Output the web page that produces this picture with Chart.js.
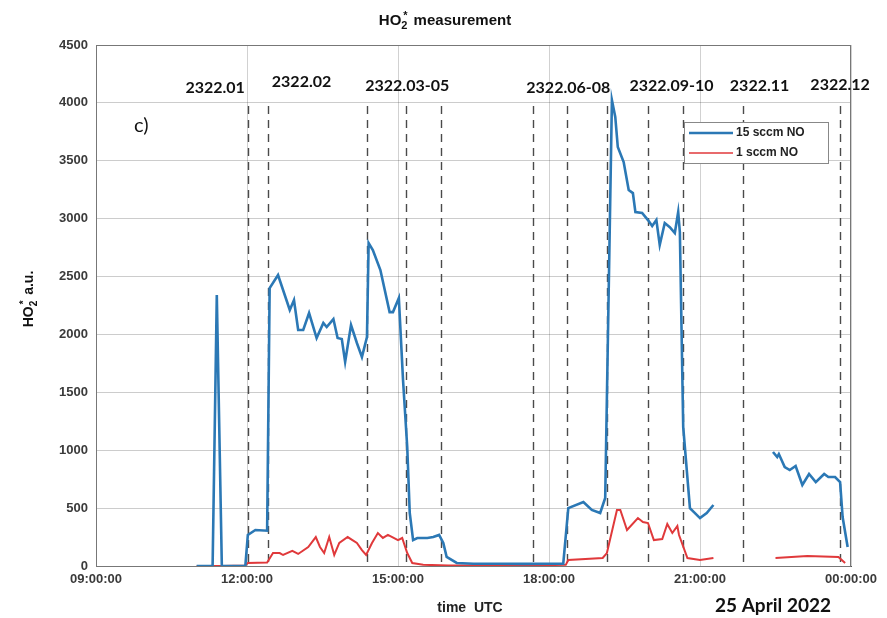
<!DOCTYPE html>
<html>
<head>
<meta charset="utf-8">
<script src="https://cdn.jsdelivr.net/npm/chart.js@4"></script>
<style>
  html, body { margin: 0; padding: 0; background: #fff; }
</style>
</head>
<body>
<canvas id="chart" width="887" height="618"></canvas>
<script>
// 15 sccm NO (blue)
const blueTimes = ["11:00","11:19","11:24","11:30","11:58","12:01","12:10","12:24","12:27","12:37","12:51","12:56","13:01","13:07","13:14","13:23","13:31","13:35","13:43","13:48","13:53","13:57","14:04","14:11","14:17","14:23","14:25","14:30","14:39","14:50","14:54","15:01","15:06","15:11","15:14","15:18","15:23","15:35","15:42","15:49","15:54","15:58","16:10","16:30","17:00","17:30","18:00","18:17","18:23","18:41","18:51","19:01","19:07","19:15","19:19","19:22","19:29","19:35","19:40","19:43","19:51","19:58","20:03","20:08","20:12","20:18","20:24","20:30","20:34","20:36","20:40","20:48","21:00","21:08","21:16","21:50","22:27","22:32","22:34","22:41","22:47","22:54","23:02","23:10","23:18","23:28","23:33","23:41","23:47","23:50","23:56"];
const blueValues = [0,0,2340,0,0,268,311,305,2400,2513,2211,2297,2038,2038,2185,1969,2099,2064,2133,1969,1960,1762,2081,1926,1805,1978,2790,2729,2556,2193,2193,2314,1606,1028,458,224,242,242,250,268,199,78,26,20,20,18,20,20,500,553,484,458,587,4024,3878,3619,3489,3247,3221,3057,3049,2988,2936,2988,2772,2962,2927,2876,3057,2884,1200,500,414,458,527,null,985,941,967,855,829,864,700,795,725,795,769,769,725,423,164];

// 1 sccm NO (red)
const redTimes = ["11:00","11:30","11:58","12:01","12:24","12:31","12:39","12:43","12:54","13:01","13:13","13:22","13:27","13:32","13:38","13:44","13:50","14:00","14:11","14:17","14:22","14:29","14:36","14:42","14:48","15:00","15:05","15:11","15:17","15:30","16:00","16:30","17:00","17:30","18:00","18:20","18:23","19:04","19:09","19:21","19:25","19:33","19:46","19:52","19:58","20:05","20:15","20:21","20:27","20:33","20:35","20:45","21:00","21:16","21:50","22:30","23:08","23:45","23:53"];
const redValues = [0,0,5,26,30,112,112,95,130,104,164,250,164,112,250,95,199,250,199,138,95,199,285,242,268,224,242,112,26,10,5,5,5,5,8,10,52,69,112,484,484,311,414,380,371,224,233,363,285,345,268,69,52,69,null,69,86,78,26];

// sample markers (dashed lines) and their labels
const markerTimes = ["12:01","12:25","14:23","15:10","15:51","17:41","18:22","19:09","19:58","20:40","21:51","23:47"];
const markerLabels = ["2322.01","2322.02","2322.03-05","2322.06-08","2322.09-10","2322.11","2322.12"];
const markerLabelTimes = ["11:22","13:05","15:11","18:23","20:26","22:11","23:47"];
const markerLabelValues = [4130,4180,4150,4130,4150,4150,4160];

const yTicks = [0,500,1000,1500,2000,2500,3000,3500,4000,4500];
const seriesNames = ["15 sccm NO","1 sccm NO"];
const seriesColors = ["#2b78b5","#e0393b"];

function toHours(t) {
  const p = t.split(":");
  return Number(p[0]) + Number(p[1]) / 60;
}
function pairs(times, values) {
  return times.map((t, i) => ({ x: toHours(t), y: values[i] }));
}

const overlay = {
  id: "overlay",
  beforeDatasetsDraw(chart) {
    const ctx = chart.ctx, a = chart.chartArea, xs = chart.scales.x, ys = chart.scales.y;
    ctx.save();
    // dashed marker lines
    ctx.strokeStyle = "#4a4a4a";
    ctx.lineWidth = 1.4;
    ctx.setLineDash([8, 6]);
    const top = ys.getPixelForValue(4000) + 3;
    markerTimes.forEach(t => {
      const x = Math.round(xs.getPixelForValue(toHours(t))) + 0.5;
      ctx.beginPath();
      ctx.moveTo(x, top);
      ctx.lineTo(x, a.bottom);
      ctx.stroke();
    });
    ctx.restore();
  },
  afterDraw(chart) {
    const ctx = chart.ctx, a = chart.chartArea, xs = chart.scales.x, ys = chart.scales.y;
    ctx.save();
    // box
    ctx.strokeStyle = "#777";
    ctx.lineWidth = 1;
    ctx.strokeRect(a.left + 0.5, a.top + 0.5, a.right - a.left - 1, a.bottom - a.top);

    // marker labels
    ctx.fillStyle = "#111";
    ctx.font = "bold 16px Lato";
    ctx.textAlign = "center";
    ctx.textBaseline = "middle";
    markerLabels.forEach((s, i) => {
      ctx.fillText(s, xs.getPixelForValue(toHours(markerLabelTimes[i])), ys.getPixelForValue(markerLabelValues[i]));
    });

    // title with subscript
    ctx.textBaseline = "alphabetic";
    ctx.textAlign = "left";
    ctx.fillStyle = "#111";
    const tf = "bold 15px 'Liberation Sans'";
    const sf = "bold 11px 'Liberation Sans'";
    ctx.font = tf;
    const w1 = ctx.measureText("HO").width;
    const w3 = ctx.measureText(" measurement").width;
    ctx.font = sf;
    const w2 = ctx.measureText("2").width;
    const w4 = ctx.measureText("*").width;
    let tx = 444 - (w1 + w2 + w3) / 2;
    const ty = 25;
    ctx.font = tf; ctx.fillText("HO", tx, ty); tx += w1;
    ctx.font = sf; ctx.fillText("2", tx, ty + 4); ctx.fillText("*", tx + 2, ty - 6); tx += Math.max(w2, w4) + 2;
    ctx.font = tf; ctx.fillText(" measurement", tx, ty);

    // y axis title
    ctx.save();
    ctx.translate(33, 300);
    ctx.rotate(-Math.PI / 2);
    const yf = "bold 14px 'Liberation Sans'";
    const ysf = "bold 10px 'Liberation Sans'";
    ctx.font = yf;
    const a1 = ctx.measureText("HO").width;
    const a3 = ctx.measureText(" a.u.").width;
    ctx.font = ysf;
    const a2 = ctx.measureText("2").width;
    let lx = -(a1 + a2 + a3) / 2;
    ctx.font = yf; ctx.fillText("HO", lx, 0); lx += a1;
    ctx.font = ysf; ctx.fillText("2", lx, 4); ctx.fillText("*", lx + 2, -6); lx += a2 + 2;
    ctx.font = yf; ctx.fillText(" a.u.", lx, 0);
    ctx.restore();

    // x axis title and date
    ctx.textAlign = "center";
    ctx.font = "bold 14px 'Liberation Sans'";
    ctx.fillStyle = "#222";
    ctx.fillText("time  UTC", 470, 612);
    ctx.font = "bold 19px Lato";
    ctx.fillStyle = "#111";
    ctx.fillText("25 April 2022", 773, 612);

    // panel letter
    ctx.textAlign = "left";
    ctx.font = "20px Lato";
    ctx.fillText("c)", 134, 132);

    // legend
    const lx0 = 684, ly0 = 122, lw = 144, lh = 41;
    ctx.fillStyle = "#fff";
    ctx.fillRect(lx0, ly0, lw, lh);
    ctx.strokeStyle = "#888";
    ctx.lineWidth = 1;
    ctx.strokeRect(lx0 + 0.5, ly0 + 0.5, lw, lh);
    ctx.font = "bold 12px 'Liberation Sans'";
    ctx.textBaseline = "middle";
    seriesNames.forEach((n, i) => {
      const yy = ly0 + 11 + i * 20;
      ctx.strokeStyle = seriesColors[i];
      ctx.lineWidth = i === 0 ? 2.5 : 1.6;
      ctx.beginPath();
      ctx.moveTo(lx0 + 5, yy);
      ctx.lineTo(lx0 + 49, yy);
      ctx.stroke();
      ctx.fillStyle = "#222";
      ctx.fillText(n, lx0 + 52, yy);
    });
    ctx.restore();
  }
};

new Chart(document.getElementById("chart"), {
  type: "line",
  data: {
    datasets: [
      {
        label: seriesNames[0],
        data: pairs(blueTimes, blueValues),
        borderColor: seriesColors[0],
        borderWidth: 2.6,
        pointRadius: 0,
        tension: 0,
        spanGaps: false
      },
      {
        label: seriesNames[1],
        data: pairs(redTimes, redValues),
        borderColor: seriesColors[1],
        borderWidth: 2,
        pointRadius: 0,
        tension: 0,
        spanGaps: false
      }
    ]
  },
  options: {
    responsive: false,
    animation: false,
    layout: { padding: { top: 45, right: 36, left: 0, bottom: 0 } },
    plugins: {
      legend: { display: false },
      title: { display: false },
      tooltip: { enabled: false }
    },
    scales: {
      x: {
        type: "linear",
        min: 9,
        max: 24,
        afterBuildTicks: s => { s.ticks = [9, 12, 15, 18, 21, 24].map(v => ({ value: v })); },
        afterFit: s => { s.height = 52; },
        ticks: {
          color: "#3a3a3a",
          font: { family: "'Liberation Sans'", size: 13, weight: "bold" },
          maxRotation: 0,
          padding: 6,
          callback: v => String(v % 24).padStart(2, "0") + ":00:00"
        },
        grid: { color: "rgba(0,0,0,0.18)", drawTicks: false },
        border: { color: "#555" }
      },
      y: {
        min: 0,
        max: 4500,
        afterBuildTicks: s => { s.ticks = yTicks.map(v => ({ value: v })); },
        afterFit: s => { s.width = 96; },
        ticks: {
          color: "#3a3a3a",
          font: { family: "'Liberation Sans'", size: 13, weight: "bold" },
          padding: 8,
          callback: v => String(v)
        },
        grid: { color: "rgba(0,0,0,0.2)", drawTicks: false },
        border: { color: "#555" }
      }
    }
  },
  plugins: [overlay]
});
</script>
</body>
</html>
